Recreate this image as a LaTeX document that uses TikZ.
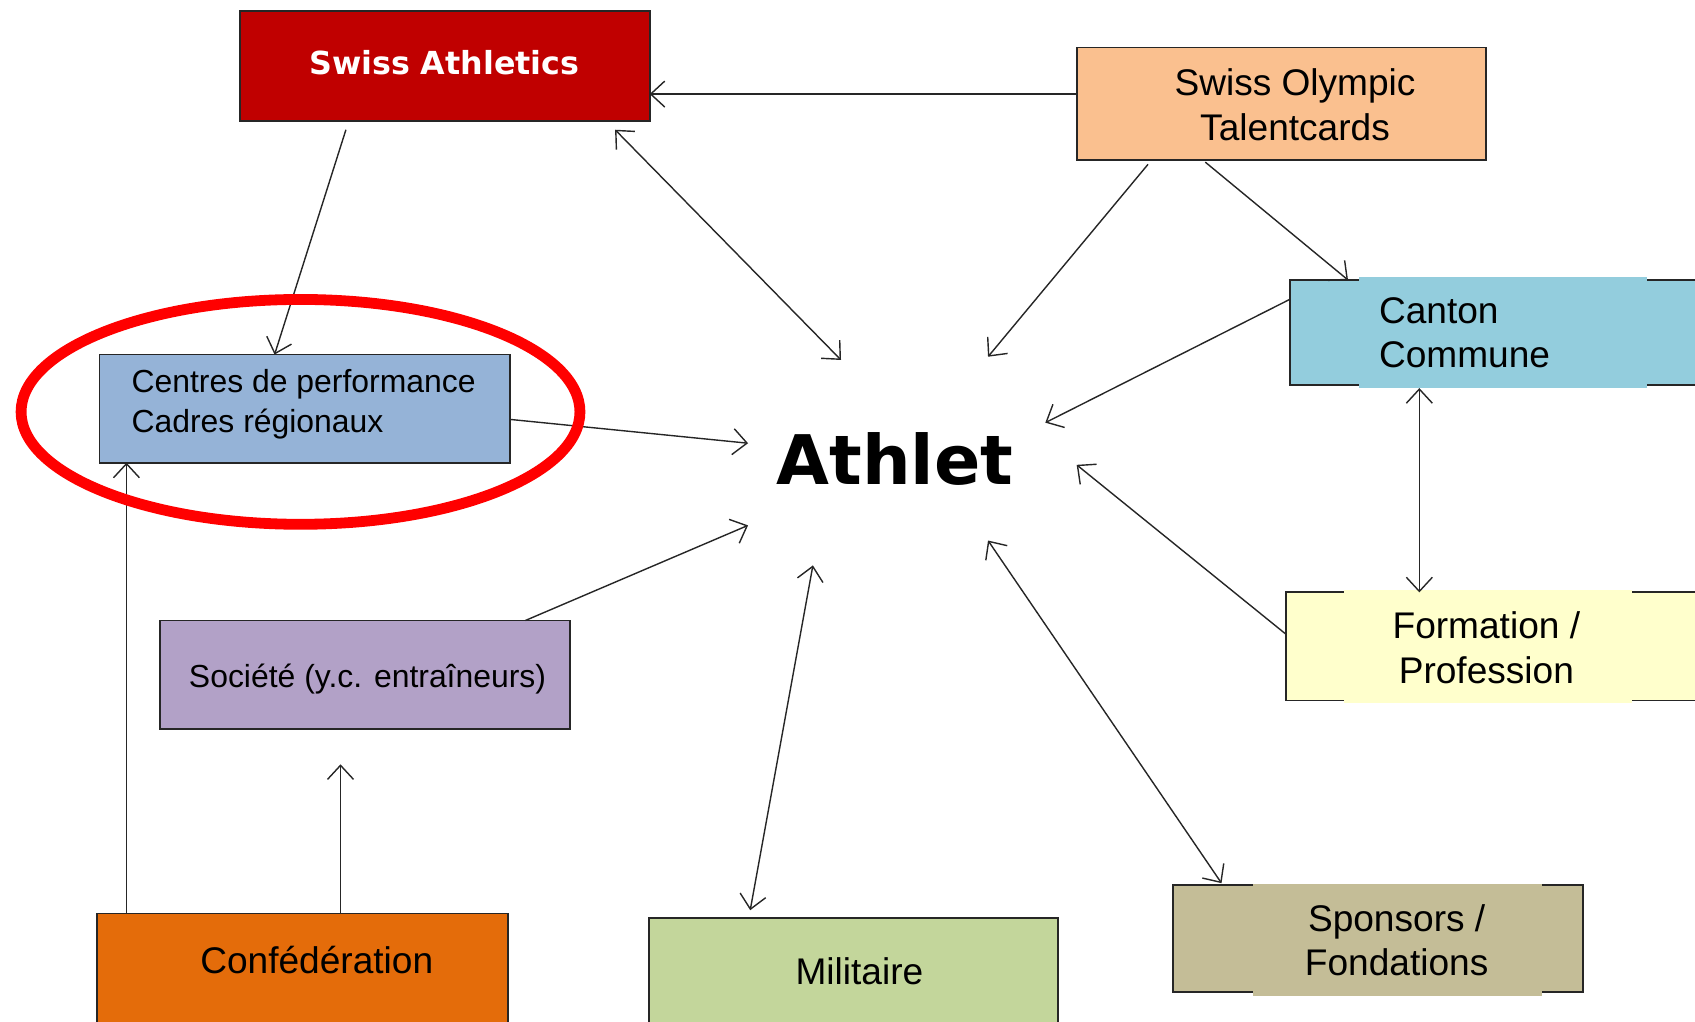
\documentclass[tikz,border=0pt]{standalone}
\usepackage{fontspec}
\setmainfont{Liberation Sans}
\newfontfamily\dejavu{DejaVu Sans}
\usetikzlibrary{arrows.meta,calc,shapes.geometric}
\definecolor{saRed}{HTML}{C00000}
\definecolor{soPeach}{HTML}{FAC08F}
\definecolor{caBlue}{HTML}{93CDDD}
\definecolor{ceBlue}{HTML}{95B3D7}
\definecolor{socLilac}{HTML}{B2A1C7}
\definecolor{cfOrange}{HTML}{E46C0A}
\definecolor{miGreen}{HTML}{C3D69B}
\definecolor{spTan}{HTML}{C4BD97}
\definecolor{foYellow}{HTML}{FFFFCC}
\definecolor{lineGray}{HTML}{262626}
\begin{document}
\begin{tikzpicture}[x=0.1mm,y=-0.1mm,
  box/.style={draw=lineGray, line width=0.17mm, inner sep=0, outer sep=0},
  patch/.style={draw=none, inner sep=0, outer sep=0},
  txt/.style={font=\fontsize{9.76}{11.7}\selectfont, align=center, inner sep=0},
  stxt/.style={font=\fontsize{8.4}{10.4}\selectfont, align=left, inner sep=0},
  conn/.style={line width=0.13mm, draw=lineGray, -{Straight Barb[length=1.3mm,width=2.4mm]}},
  biconn/.style={line width=0.13mm, draw=lineGray, {Straight Barb[length=1.3mm,width=2.4mm]}-{Straight Barb[length=1.3mm,width=2.4mm]}}
]
\useasboundingbox (0,0) rectangle (1568,945);
\clip (0,0) rectangle (1568,945);

% boxes
\node[box, fill=saRed, minimum width=37.9mm, minimum height=10.2mm] (sa) at (411.5,61) {};
\node[font=\dejavu\bfseries\fontsize{8.35}{10}\selectfont, text=white, inner sep=0] (sat) at (411,58) {Swiss Athletics};

\node[box, fill=soPeach, minimum width=37.9mm, minimum height=10.4mm] (so) at (1185.5,96) {};
\node[txt] (sot) at (1198,97) {Swiss Olympic\\Talentcards};

\node[box, fill=caBlue, minimum width=40.7mm, minimum height=9.7mm] (ca) at (1396.5,307.5) {};
\node[patch, fill=caBlue, minimum width=26.7mm, minimum height=10.3mm] (cap) at (1390.5,307.5) {};
\node[txt, align=left, anchor=west] (cat) at (1275,308) {Canton\\Commune};

\node[box, fill=ceBlue, minimum width=38mm, minimum height=10mm] (ce) at (282,378) {};
\node[stxt, anchor=west] (cet) at (121,374) {Centres de performance\\Cadres régionaux};

\node[box, fill=socLilac, minimum width=37.9mm, minimum height=10mm] (soc) at (337.5,624) {};
\node[stxt] (soct) at (340,628) {Société (y.c. entraîneurs)};

\node[box, fill=foYellow, minimum width=41mm, minimum height=10mm] (fo) at (1395,598) {};
\node[patch, fill=foYellow, minimum width=26.7mm, minimum height=10.4mm] (fop) at (1376.5,598) {};
\node[txt] (fot) at (1375,599) {Formation /\\Profession};

\node[box, fill=spTan, minimum width=37.9mm, minimum height=9.9mm] (sp) at (1274.5,868.5) {};
\node[patch, fill=spTan, minimum width=26.7mm, minimum height=10.3mm] (spp) at (1292.5,869.5) {};
\node[txt] (spt) at (1292,870) {Sponsors /\\Fondations};

\node[box, fill=cfOrange, minimum width=38mm, minimum height=11.5mm] (cf) at (280,902.5) {};
\node[txt] (cft) at (293,888) {Confédération};

\node[box, fill=miGreen, minimum width=37.9mm, minimum height=11.1mm] (mi) at (789.5,904.5) {};
\node[txt] (mit) at (795,898) {Militaire};

% center
\node[font=\dejavu\bfseries\fontsize{18}{20}\selectfont, inner sep=0] (ath) at (828,425) {Athlet};
\coordinate (aSA) at (778,333);
\coordinate (aSO) at (914,330);
\coordinate (aCa) at (967,391);
\coordinate (aFo) at (996,430);
\coordinate (aSp) at (914,500);
\coordinate (aMi) at (752,523);
\coordinate (aSo) at (692,486);
\coordinate (aCe) at (692,410);
\coordinate (socq) at (315,707);
\coordinate (caB) at ($(ca.south west)+(120,3)$);
\coordinate (cfA) at ($(cf.north west)+(27,0)$);

% connectors
\draw[conn] ([yshift=0.9mm]so.west) -- ([yshift=0.9mm]so.west -| sa.east);
\draw[biconn] ($(sa.south east)+(-32,8)$) -- (aSA);
\draw[conn] ($(sa.south west)+(98,8)$) -- ($(ce.north west)+(162,0)$);
\draw[conn] ($(so.south west)+(66,4)$) -- (aSO);
\draw[conn] ($(so.south west)+(119,2)$) -- ($(ca.north west)+(54,0)$);
\draw[conn] ($(ca.north west)+(0,18)$) -- (aCa);
\draw[biconn] (caB) -- (caB |- fo.north);
\draw[conn] ($(fo.north west)+(0,39)$) -- (aFo);
\draw[conn] ($(ce.north east)+(0,60)$) -- (aCe);
\draw[conn] ($(soc.north west)+(338,0)$) -- (aSo);
\draw[biconn] ($(mi.north west)+(94,-7)$) -- (aMi);
\draw[biconn] ($(sp.north west)+(45,-2)$) -- (aSp);
\draw[conn] (cfA) -- (cfA |- ce.south);
\draw[conn] (cf.north -| socq) -- (socq);

% highlight
\node[draw=red, line width=1mm, ellipse, minimum width=51.7mm, minimum height=20.8mm, inner sep=0] (ring) at (278,381) {};
\end{tikzpicture}
\end{document}
